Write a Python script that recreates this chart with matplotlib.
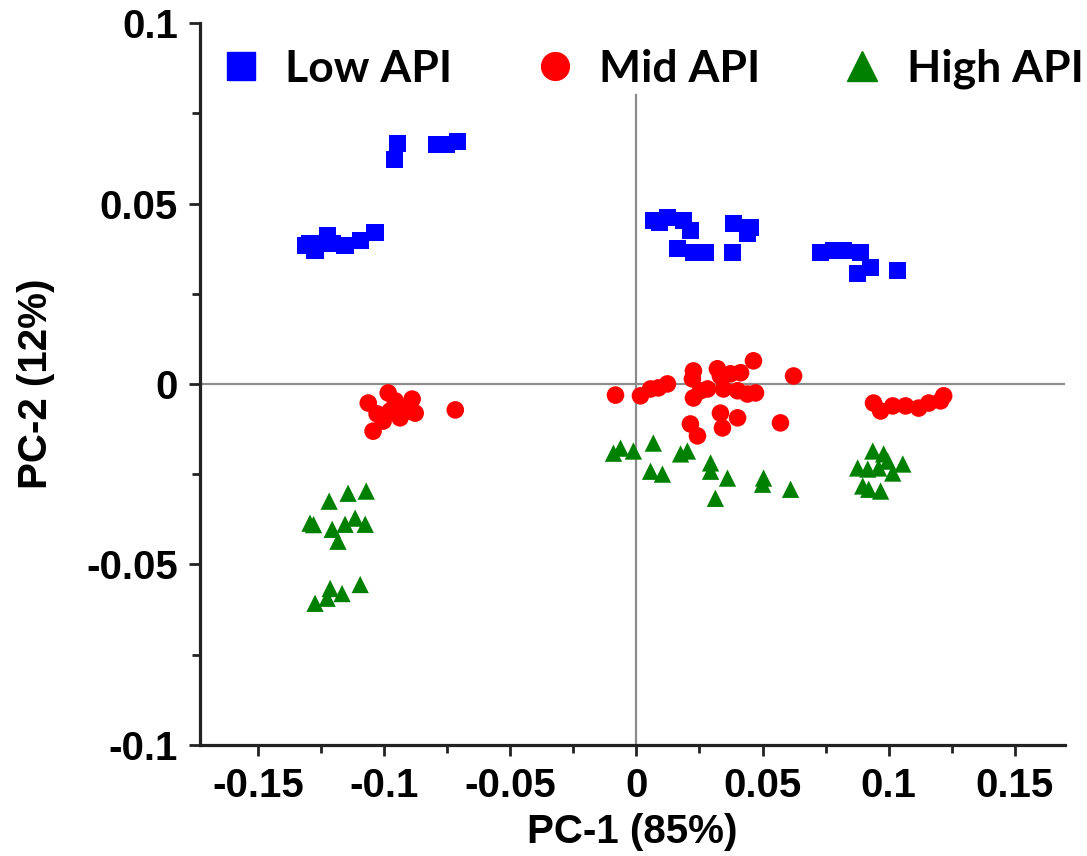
import matplotlib
matplotlib.use("Agg")
import matplotlib.pyplot as plt
from matplotlib.ticker import MultipleLocator, FuncFormatter
from matplotlib.lines import Line2D

# ---- data ----
low_x = [-0.0948, -0.0960, -0.0790, -0.0754, -0.0710,
         -0.1313, -0.1294, -0.1274, -0.1226, -0.1206, -0.1155, -0.1095, -0.1036,
         0.0067, 0.0091, 0.0123, 0.0187, 0.0214, 0.0163, 0.0226, 0.0274,
         0.0385, 0.0452, 0.0440, 0.0381,
         0.0730, 0.0782, 0.0821, 0.0889, 0.0929, 0.0877, 0.1036]
low_y = [0.0667, 0.0622, 0.0664, 0.0664, 0.0672,
         0.0383, 0.0389, 0.0369, 0.0411, 0.0389, 0.0383, 0.0397, 0.0419,
         0.0453, 0.0447, 0.0461, 0.0453, 0.0425, 0.0375, 0.0364, 0.0364,
         0.0444, 0.0433, 0.0417, 0.0364,
         0.0364, 0.0369, 0.0369, 0.0364, 0.0322, 0.0306, 0.0314]

mid_x = [-0.1063, -0.0984, -0.1028, -0.0976, -0.0925, -0.0889, -0.0877, -0.1044,
         -0.1004, -0.0937, -0.0718, -0.0956, -0.0905,
         -0.0083, 0.0016, 0.0056, 0.0087, 0.0123, 0.0226, 0.0222, 0.0226, 0.0254,
         0.0321, 0.0333, 0.0373, 0.0413, 0.0464, 0.0623, 0.0282, 0.0345, 0.0401,
         0.0440, 0.0472, 0.0333, 0.0401, 0.0214, 0.0242, 0.0341, 0.0571,
         0.0940, 0.0968, 0.1016, 0.1067, 0.1119, 0.1159, 0.1206, 0.1218]
mid_y = [-0.0053, -0.0025, -0.0083, -0.0075, -0.0067, -0.0042, -0.0081, -0.0131,
         -0.0103, -0.0094, -0.0072, -0.0047, -0.0075,
         -0.0031, -0.0033, -0.0014, -0.0011, 0.0000, 0.0036, 0.0014, -0.0039, -0.0019,
         0.0042, 0.0022, 0.0028, 0.0031, 0.0064, 0.0022, -0.0014, -0.0014, -0.0019,
         -0.0028, -0.0025, -0.0081, -0.0094, -0.0111, -0.0144, -0.0122, -0.0108,
         -0.0053, -0.0075, -0.0061, -0.0061, -0.0067, -0.0053, -0.0047, -0.0033]

high_x = [-0.1218, -0.1143, -0.1071, -0.1294, -0.1206, -0.1155, -0.1115, -0.1075,
          -0.1183, -0.1274, -0.1214, -0.1167, -0.1095, -0.1226, -0.1280,
          -0.0091, -0.0063, -0.0012, 0.0067, 0.0056, 0.0103, 0.0175, 0.0202,
          0.0294, 0.0294, 0.0361, 0.0313, 0.0504, 0.0500, 0.0611,
          0.0937, 0.0980, 0.0877, 0.0917, 0.0960, 0.1016, 0.1056, 0.0921, 0.0968,
          0.0996, 0.0897]
high_y = [-0.0325, -0.0303, -0.0297, -0.0386, -0.0403, -0.0389, -0.0372, -0.0389,
          -0.0436, -0.0608, -0.0567, -0.0581, -0.0556, -0.0594, -0.0390,
          -0.0192, -0.0178, -0.0186, -0.0164, -0.0242, -0.0250, -0.0194, -0.0186,
          -0.0219, -0.0242, -0.0261, -0.0317, -0.0261, -0.0278, -0.0292,
          -0.0186, -0.0194, -0.0233, -0.0236, -0.0233, -0.0247, -0.0222, -0.0292,
          -0.0297, -0.0214, -0.0283]

labels = ["Low API", "Mid API", "High API"]
colors = ["#0000FF", "#FF0000", "#008000"]
x_label = "PC-1 (85%)"
y_label = "PC-2 (12%)"
x_ticks = [-0.15, -0.1, -0.05, 0, 0.05, 0.1, 0.15]
y_ticks = [-0.1, -0.05, 0, 0.05, 0.1]

# ---- figure ----
fig = plt.figure(figsize=(10.87, 8.56), dpi=100)
ax = fig.add_axes([0.184, 0.130, 0.796, 0.843])

FONT = "Liberation Sans"

ax.axhline(0, color="#8c8c8c", lw=1.6, zorder=1)
ax.axvline(0, ymin=0, ymax=0.9, color="#8c8c8c", lw=1.6, zorder=1)

ax.scatter(low_x, low_y, marker="s", s=155, color=colors[0], edgecolors="none", zorder=3)
ax.scatter(mid_x, mid_y, marker="o", s=160, color=colors[1], edgecolors="none", zorder=3)
ax.scatter(high_x, high_y, marker="^", s=155, color=colors[2], edgecolors="none", zorder=3)

ax.set_xlim(-0.173, 0.170)
ax.set_ylim(-0.1, 0.1)
ax.set_xticks(x_ticks)
ax.set_yticks(y_ticks)
ax.xaxis.set_minor_locator(MultipleLocator(0.025))
ax.yaxis.set_minor_locator(MultipleLocator(0.025))

def fmt(v, pos):
    if abs(v) < 1e-12:
        return "0"
    s = ("%.2f" % v).rstrip("0")
    return s
ax.xaxis.set_major_formatter(FuncFormatter(fmt))
ax.yaxis.set_major_formatter(FuncFormatter(fmt))

for side in ["top", "right"]:
    ax.spines[side].set_visible(False)
for side in ["left", "bottom"]:
    ax.spines[side].set_linewidth(2.3)
    ax.spines[side].set_color("#222222")

ax.tick_params(which="major", direction="out", length=8, width=2, color="#222222", pad=8)
ax.tick_params(which="minor", direction="out", length=6, width=2, color="#222222")
for lab in ax.get_xticklabels() + ax.get_yticklabels():
    lab.set_fontfamily(FONT)
    lab.set_fontweight("bold")
    lab.set_fontsize(29)

ax.set_xlabel(x_label, fontsize=29, fontweight="bold", family=FONT, labelpad=6)
ax.set_ylabel(y_label, fontsize=29, fontweight="bold", family=FONT, labelpad=22)

handles = [
    Line2D([], [], ls="none", marker="s", markersize=20, color=colors[0]),
    Line2D([], [], ls="none", marker="o", markersize=20, color=colors[1]),
    Line2D([], [], ls="none", marker="^", markersize=22, color=colors[2]),
]
leg = ax.legend(handles, labels, ncol=3, loc="upper left", bbox_to_anchor=(-0.03, 1.02),
                frameon=False, handletextpad=0.4, columnspacing=1.7, handlelength=1.2,
                prop={"family": "Lato", "weight": "bold", "size": 32})

fig.savefig("out.png", dpi=100)
